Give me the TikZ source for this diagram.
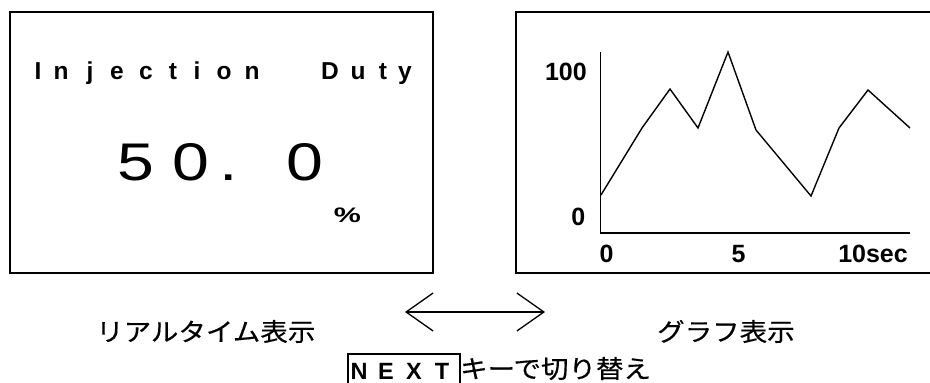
\documentclass[tikz,border=0pt]{standalone}
\usepackage{fontspec}
\setmainfont{Liberation Sans}
\newfontfamily\jpfont[FakeBold=0.4]{Noto Sans CJK JP}
\usetikzlibrary{arrows.meta}
\tikzset{
  frame/.style={draw=black, line width=1.8pt},
  plotline/.style={draw=black, line width=1.4pt, line join=miter},
  titlechar/.style={inner sep=0pt, anchor=base, font=\fontsize{24.5}{24.5}\selectfont\bfseries},
  bigdigit/.style={inner sep=0pt, anchor=base},
  axislabel/.style={inner sep=0pt, font=\fontsize{25}{25}\selectfont\bfseries},
  jptext/.style={inner sep=0pt, anchor=base west},
  keychar/.style={inner sep=0pt, anchor=base, font=\fontsize{23.5}{23.5}\selectfont\bfseries},
  swaparrow/.style={line width=1.3pt, {Straight Barb[length=27pt,width=38pt]}-{Straight Barb[length=27pt,width=38pt]}}
}
\newcommand{\bigd}[1]{\scalebox{1.25}[1]{\fontsize{53}{53}\selectfont #1}}
\newcommand{\jpt}[1]{\scalebox{1.1}[1]{\fontsize{25}{25}\selectfont\jpfont #1}}
\begin{document}
\begin{tikzpicture}[x=1pt, y=-1pt]
\useasboundingbox (0,0) rectangle (930,383);
% left panel
\node[frame, inner sep=0pt, minimum width=423pt, minimum height=261pt, anchor=north west] (realbox) at (9,11) {};
\foreach \c/\x [count=\i] in {I/38, n/61, j/90, e/117, c/146, t/173, i/197, o/224, n/252, D/330, u/358, t/383, y/405}
  \node[titlechar] (title\i) at (\x,79) {\c};
\node[bigdigit] (dfive) at (136,180) {\bigd{5}};
\node[bigdigit] (dzero) at (191,180) {\bigd{0}};
\node[bigdigit] (ddot) at (228.5,180) {\bigd{.}};
\node[bigdigit] (dtenth) at (305,180) {\bigd{0}};
\node[bigdigit] (pct) at (347.5,222) {\scalebox{1.45}[1]{\fontsize{21}{21}\selectfont\bfseries\%}};
% right panel
\node[frame, inner sep=0pt, minimum width=417pt, minimum height=261pt, anchor=north west] (graphbox) at (515,11) {};
\coordinate (ytop) at (600.5,52);
\coordinate (origin) at (600.5,233);
\coordinate (xend) at (910,233);
\draw[line width=1.4pt] (ytop) -- (origin) -- (xend);
\draw[plotline] (601,195) -- (642,128) -- (670,89) -- (698,128) -- (728,52) -- (756,130) -- (811,196) -- (839,128) -- (868,90) -- (910,128);
\node[axislabel, anchor=base east] (yhund) at (587,80) {100};
\node[axislabel, anchor=base east] (yzero) at (585.5,225) {0};
\node[axislabel, anchor=base west] (xzero) at (599.5,262) {0};
\node[axislabel, anchor=base] (xfive) at (738.5,262) {5};
\node[axislabel, anchor=base east] (xten) at (908,262) {10sec};
% bottom
\coordinate (arrowL) at (405,312);
\coordinate (arrowR) at (545,312);
\draw[swaparrow] (arrowL) -- (arrowR);
\node[jptext] (realtime) at (96,341) {\jpt{リアルタイム表示}};
\node[jptext] (graphview) at (657,341) {\jpt{グラフ表示}};
\node[draw=black, line width=1.5pt, inner sep=0pt, minimum width=112pt, minimum height=40pt, anchor=north west] (nextkey) at (347,353) {};
\node[keychar] (kn) at (359,379) {N};
\node[keychar] (ke) at (386,379) {E};
\node[keychar] (kx) at (414,379) {X};
\node[keychar] (kt) at (442,379) {T};
\node[jptext] (switchtxt) at (460,378) {\jpt{キーで切り替え}};
\end{tikzpicture}
\end{document}
